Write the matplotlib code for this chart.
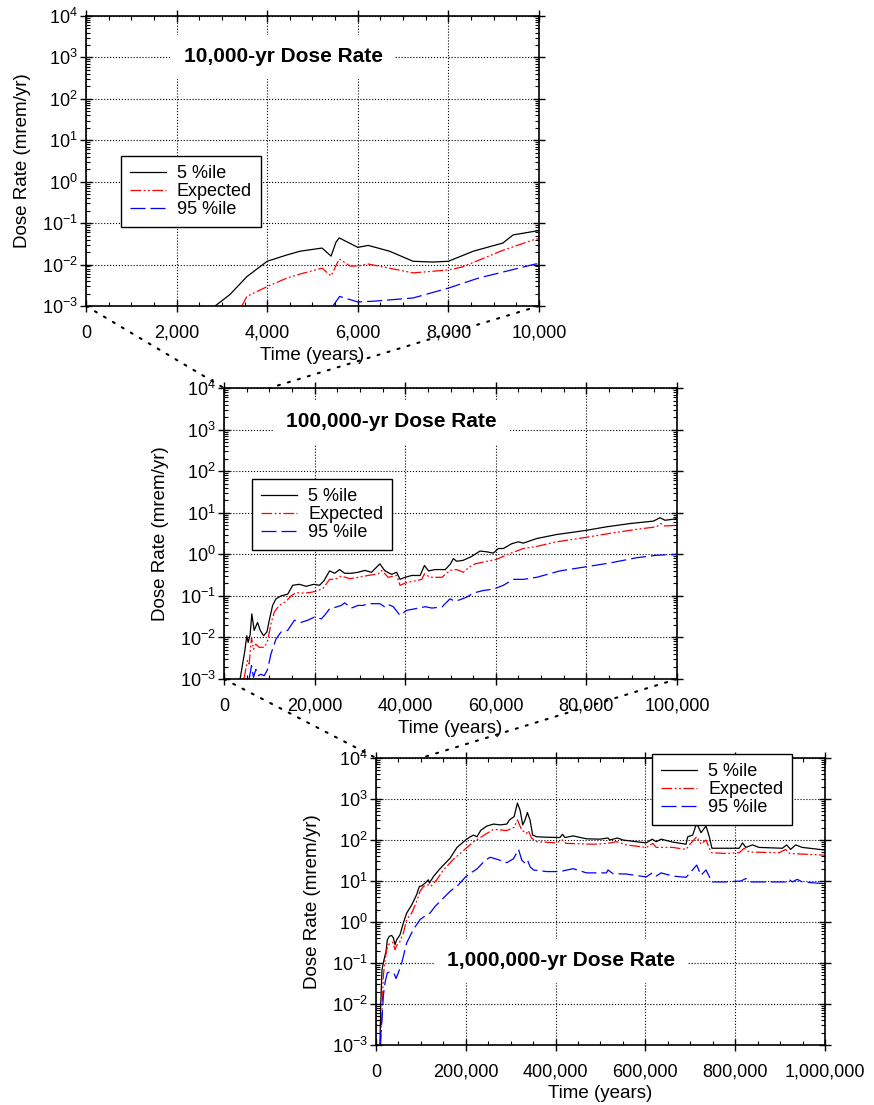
import numpy as np
import matplotlib
matplotlib.use('Agg')
import matplotlib.pyplot as plt
from matplotlib.ticker import LogLocator, MultipleLocator, FuncFormatter, NullFormatter
from matplotlib.patches import ConnectionPatch

plt.rcParams['font.family'] = ['Liberation Sans', 'DejaVu Sans']
plt.rcParams['mathtext.fontset'] = 'custom'
plt.rcParams['mathtext.rm'] = 'Liberation Sans'
plt.rcParams['axes.unicode_minus'] = False

labels = ['5 %ile', 'Expected', '95 %ile']
titles = ['10,000-yr Dose Rate', '100,000-yr Dose Rate', '1,000,000-yr Dose Rate']

# ---- 10,000 yr panel ----
t1_p5 = [2850, 3180, 3550, 4000, 4430, 4725, 5210, 5410, 5520, 5590, 6000, 6230, 6700, 7220, 7660, 8000, 8550, 9200, 9430, 9920, 10000]
d1_p5 = [0.001, 0.0019, 0.0051, 0.012, 0.017, 0.021, 0.025, 0.016, 0.035, 0.044, 0.026, 0.029, 0.021, 0.012, 0.0115, 0.012, 0.021, 0.033, 0.052, 0.064, 0.066]
t1_ex = [3440, 3550, 3990, 4430, 4725, 5210, 5410, 5590, 5830, 6000, 6230, 7220, 8000, 8300, 9200, 9920, 10000]
d1_ex = [0.001, 0.0017, 0.0029, 0.0047, 0.0059, 0.0082, 0.0053, 0.0137, 0.0092, 0.0092, 0.0103, 0.0063, 0.0074, 0.0087, 0.022, 0.041, 0.042]
t1_p95 = [5450, 5600, 6000, 6330, 7220, 8000, 8660, 9920, 10000]
d1_p95 = [0.001, 0.0017, 0.00125, 0.0013, 0.00156, 0.0027, 0.0047, 0.0103, 0.0105]

# ---- 100,000 yr panel ----
t2_p5 = [3550, 4600, 5030, 5330, 5770, 6140, 6660, 7400, 8000, 8730, 9470, 10000, 10730, 11470, 12600,
         14060, 15170, 16650, 18130, 19830, 21090, 22050, 23300, 24420, 25530, 26640, 28120, 29600,
         31080, 32560, 34410, 35520, 37000, 38110, 38850, 39960, 41440, 43290, 44250, 45140, 46620,
         48840, 49950, 50630, 51360, 52830, 54670, 56510, 57990, 59460, 60560, 61670, 63510, 64980,
         66080, 69030, 73440, 77860, 80070, 84480, 89630, 94780, 96260, 97360, 100000]
d2_p5 = [0.001, 0.0048, 0.011, 0.0076, 0.0117, 0.037, 0.0148, 0.023, 0.0148, 0.011, 0.0135, 0.026, 0.059, 0.085, 0.10,
         0.11, 0.18, 0.19, 0.17, 0.19, 0.18, 0.23, 0.40, 0.35, 0.43, 0.35, 0.35, 0.37,
         0.41, 0.37, 0.59, 0.40, 0.33, 0.37, 0.25, 0.28, 0.31, 0.31, 0.54, 0.40, 0.43,
         0.43, 0.58, 0.79, 0.68, 0.72, 0.89, 1.2, 1.15, 1.07, 1.38, 1.38, 1.8, 2.0,
         1.86, 2.4, 3.0, 3.5, 3.8, 4.6, 5.5, 6.3, 7.6, 6.6, 7.2]
t2_ex = [4400, 5180, 5550, 6070, 6510, 7030, 7770, 8880, 9620, 10360, 11100, 12210, 13690, 14800, 15910,
         17390, 18870, 20350, 21830, 23310, 24420, 25900, 27750, 29600, 31820, 34040, 34780, 36260,
         38110, 38850, 40330, 42180, 43660, 44250, 45510, 48100, 49890, 51360, 52830, 54300, 55410,
         57250, 60190, 63140, 66080, 69030, 73440, 79330, 85220, 91110, 95520, 96400, 97360, 100000]
d2_ex = [0.001, 0.0028, 0.0023, 0.010, 0.0052, 0.0069, 0.0058, 0.0058, 0.0083, 0.021, 0.041, 0.059, 0.074, 0.10, 0.12,
         0.117, 0.12, 0.13, 0.15, 0.25, 0.25, 0.30, 0.26, 0.28, 0.31, 0.34, 0.41, 0.28,
         0.31, 0.18, 0.21, 0.23, 0.25, 0.34, 0.28, 0.28, 0.41, 0.43, 0.37, 0.51, 0.59,
         0.65, 0.76, 1.05, 1.38, 1.55, 2.0, 2.5, 3.2, 4.0, 4.6, 5.5, 4.8, 5.0]
t2_p95 = [5550, 6070, 6510, 7030, 7550, 8140, 8880, 9620, 10360, 11470, 12580, 14060, 15540, 17020, 18500,
          19980, 21460, 22200, 23310, 24790, 25900, 26640, 28120, 29600, 30710, 31820, 34410, 35520,
          36260, 37370, 38850, 40330, 42180, 44400, 45880, 48100, 49890, 50990, 52100, 53570, 55040,
          57250, 59460, 61670, 63870, 66080, 69030, 74180, 79330, 85220, 91110, 95520, 100000]
d2_p95 = [0.001, 0.0021, 0.0011, 0.0017, 0.0012, 0.0013, 0.0012, 0.0017, 0.004, 0.0091, 0.0135, 0.0148, 0.026, 0.023, 0.026,
          0.031, 0.028, 0.034, 0.049, 0.054, 0.059, 0.068, 0.051, 0.059, 0.059, 0.065, 0.065, 0.054,
          0.062, 0.055, 0.034, 0.045, 0.049, 0.055, 0.051, 0.054, 0.085, 0.074, 0.081, 0.093, 0.117,
          0.135, 0.145, 0.18, 0.25, 0.25, 0.28, 0.40, 0.49, 0.62, 0.83, 0.95, 1.0]

# ---- 1,000,000 yr panel ----
t3_p5 = [8920, 10400, 13380, 17840, 22300, 25280, 29740, 34950, 38660, 42380, 46100, 53530, 60970, 68400,
         79550, 90710, 96660, 101860, 109300, 116730, 118960, 127880, 142750, 165000, 180410, 199640,
         209990, 217380, 224780, 233650, 246960, 261750, 276540, 291320, 297240, 307590, 314980, 320900,
         326810, 331990, 337160, 343080, 348990, 357860, 380050, 409620, 415540, 420720, 439200, 468780,
         498360, 516840, 520540, 537550, 550120, 579700, 601880, 615190, 624060, 635150, 661040, 690610,
         694310, 705400, 714270, 723880, 734980, 742370, 748290, 779340, 808920, 816320, 823710, 838500,
         853290, 905040, 914650, 923520, 934610, 949400, 993770, 1000000]
d3_p5 = [0.001, 0.0089, 0.069, 0.12, 0.19, 0.37, 0.45, 0.47, 0.41, 0.28, 0.37, 0.49, 0.95, 1.66,
         2.6, 4.7, 7.4, 7.6, 8.9, 10.7, 8.9, 12.9, 20, 36, 66, 100,
         120, 132, 120, 174, 219, 245, 234, 245, 309, 372, 794, 537,
         234, 309, 468, 309, 132, 120, 117, 115, 138, 115, 126, 107,
         105, 112, 100, 112, 100, 91, 85, 105, 91, 105, 89, 79,
         120, 132, 257, 151, 219, 120, 63, 63, 63, 85, 66, 76,
         66, 63, 76, 59, 76, 66, 58, 57]
t3_ex = [10400, 12640, 16360, 20070, 23790, 27510, 31230, 37180, 42380, 46100, 52050, 60970, 68400, 79550,
         90710, 98140, 105580, 116730, 121930, 135320, 150190, 172490, 194800, 217380, 246960, 261750,
         291320, 307590, 314980, 324590, 335680, 339380, 346770, 357860, 402230, 415540, 422940, 483570,
         516840, 535320, 557510, 601880, 616670, 624060, 661040, 690610, 698010, 714270, 723880, 734980,
         746810, 779340, 808920, 820010, 831100, 897650, 912440, 921310, 993770, 1000000]
d3_ex = [0.001, 0.0043, 0.048, 0.12, 0.21, 0.28, 0.30, 0.32, 0.21, 0.27, 0.31, 0.54, 1.15, 1.66,
         3.2, 5.6, 7.4, 8.1, 7.4, 10.7, 18.6, 34, 55, 91, 145, 182,
         170, 204, 309, 174, 145, 170, 110, 91, 85, 100, 83, 79,
         83, 91, 76, 66, 83, 66, 66, 59, 76, 120, 79, 100,
         49, 47, 49, 63, 51, 49, 59, 47, 43, 43]
t3_p95 = [8920, 13380, 16360, 20070, 25280, 29740, 34950, 40150, 44610, 49810, 57250, 68400, 83270, 98140,
          113010, 120450, 131600, 146470, 165060, 183650, 198520, 209670, 224540, 243130, 254270, 269140,
          291450, 306320, 317470, 324900, 332340, 337540, 343490, 350930, 380050, 409620, 439200, 468780,
          513140, 516840, 527940, 557510, 601880, 615190, 624060, 635150, 661040, 690610, 698010, 714270,
          723880, 734980, 748290, 779340, 812620, 823710, 834800, 912440, 919840, 927230, 938320, 949400,
          993770, 1000000]
d3_p95 = [0.001, 0.0043, 0.016, 0.033, 0.058, 0.060, 0.058, 0.056, 0.042, 0.058, 0.10, 0.31, 0.66, 1.15,
          1.5, 1.66, 2.4, 3.5, 5.6, 8.1, 12.3, 15.5, 19.5, 32, 38, 34,
          28, 35, 59, 32, 27, 32, 22, 18.6, 17, 17, 20, 15.8,
          15.8, 18.6, 15.1, 14.8, 12.6, 15.8, 13.2, 15.8, 13.2, 12.3, 15.1, 24.5,
          13.8, 18.6, 9.5, 9.5, 10, 11.5, 9.5, 9.5, 11, 9.5, 11, 9.5,
          8.7, 8.7]

panels = [
    dict(rect=[0.0984, 0.7231, 0.5183, 0.2624], xmax=10000, xmaj=2000,
         series=[(t1_p5, d1_p5), (t1_ex, d1_ex), (t1_p95, d1_p95)],
         leg=(0.077, 0.517), title_xy=(0.435, 0.859)),
    dict(rect=[0.2563, 0.3855, 0.5183, 0.2633], xmax=100000, xmaj=20000,
         series=[(t2_p5, d2_p5), (t2_ex, d2_ex), (t2_p95, d2_p95)],
         leg=(0.062, 0.687), title_xy=(0.37, 0.885)),
    dict(rect=[0.4302, 0.0543, 0.5137, 0.2597], xmax=1000000, xmaj=200000,
         series=[(t3_p5, d3_p5), (t3_ex, d3_ex), (t3_p95, d3_p95)],
         leg=(0.615, 1.014), title_xy=(0.413, 0.293)),
]

styles = [dict(color='black', linestyle='-'),
          dict(color='red', linestyle=(0, (8.5, 2, 1.5, 2, 1.5, 2))),
          dict(color='blue', linestyle=(0, (12, 4)))]

fig = plt.figure(figsize=(8.74, 11.05), dpi=100, facecolor='white')
axes = []
for i, p in enumerate(panels):
    ax = fig.add_axes(p['rect'])
    for (t, d), st, lab in zip(p['series'], styles, labels):
        ax.plot(t, d, linewidth=0.9, label=lab, **st)
    ax.set_yscale('log')
    ax.set_ylim(1e-3, 1e4)
    ax.set_xlim(0, p['xmax'])
    ax.yaxis.set_major_locator(LogLocator(base=10, numticks=20))
    ax.yaxis.set_minor_locator(LogLocator(base=10, subs=np.arange(2, 10), numticks=20))
    ax.yaxis.set_minor_formatter(NullFormatter())
    ax.xaxis.set_major_locator(MultipleLocator(p['xmaj']))
    ax.xaxis.set_minor_locator(MultipleLocator(p['xmaj'] / 4))
    ax.xaxis.set_major_formatter(FuncFormatter(lambda v, pos: f"{int(v):,}"))
    ax.grid(True, which='major', color='black', linestyle=':', linewidth=0.8)
    ax.tick_params(which='major', direction='inout', length=9, width=1, top=True, right=True,
                   labelsize=13, colors='black')
    ax.tick_params(which='minor', direction='in', length=3, width=0.8, top=True, right=True)
    ax.tick_params(axis='x', which='major', pad=9)
    ax.tick_params(axis='y', which='major', pad=1.5)
    for s in ax.spines.values():
        s.set_linewidth(1.2)
    ax.set_xlabel('Time (years)', fontsize=13.5)
    ax.set_ylabel('Dose Rate (mrem/yr)', fontsize=13.5)
    ax.xaxis.set_label_coords(0.5, -0.14)
    ax.yaxis.set_label_coords(-0.122, 0.5)
    leg = ax.legend(loc='upper left', bbox_to_anchor=p['leg'], borderaxespad=0, fontsize=13,
                    frameon=True, fancybox=False, framealpha=1, edgecolor='black',
                    labelspacing=0.05, handlelength=2.0, handletextpad=0.6, borderpad=0.5)
    leg.get_frame().set_linewidth(1.0)
    leg.set_zorder(10)
    ax.text(p['title_xy'][0], p['title_xy'][1], titles[i], transform=ax.transAxes,
            ha='center', va='center', fontsize=15, fontweight='bold', zorder=5,
            bbox=dict(boxstyle='square,pad=0.6', facecolor='white', edgecolor='none'))
    axes.append(ax)

# dotted zoom connectors
for a, b, xr in [(axes[0], axes[1], 10000), (axes[1], axes[2], 100000)]:
    for x in (0, xr):
        con = ConnectionPatch(xyA=(x, 1e-3), coordsA=a.transData, xyB=(x, 1e4), coordsB=b.transData,
                              color='black', linewidth=1.5, linestyle=(0, (1, 4)))
        fig.add_artist(con)

plt.savefig('out.png', dpi=100, facecolor='white')
